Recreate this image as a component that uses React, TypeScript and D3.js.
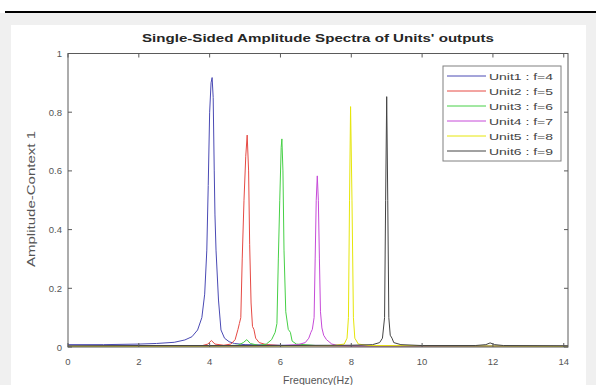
import React from "react";
import * as d3 from "d3";

const xTicks = [0, 2, 4, 6, 8, 10, 12, 14];
const yTicks = [0, 0.2, 0.4, 0.6, 0.8, 1];
const yTickLabels = ["0", "0.2", "0.4", "0.6", "0.8", "1"];

const seriesNames = ["Unit1 : f=4", "Unit2 : f=5", "Unit3 : f=6", "Unit4 : f=7", "Unit5 : f=8", "Unit6 : f=9"];
const seriesColors = ["#4a4ab4", "#e64a44", "#46d046", "#c64ad8", "#e6e60a", "#444444"];

const unit1F = [0, 1, 2, 2.5, 3.0, 3.3, 3.5, 3.66, 3.78, 3.86, 3.92, 3.96, 4.0, 4.04, 4.07, 4.1, 4.13, 4.15, 4.18, 4.25, 4.32, 4.42, 4.55, 4.7, 5, 6, 8, 10, 14.12];
const unit1A = [0.008, 0.008, 0.01, 0.012, 0.016, 0.024, 0.035, 0.058, 0.1, 0.18, 0.33, 0.55, 0.8, 0.9, 0.918, 0.85, 0.6, 0.45, 0.33, 0.16, 0.058, 0.03, 0.018, 0.012, 0.008, 0.006, 0.005, 0.004, 0.003];

const unit2F = [0, 3, 3.8, 3.95, 4.05, 4.15, 4.4, 4.6, 4.72, 4.8, 4.84, 4.88, 4.92, 4.97, 5.02, 5.06, 5.1, 5.13, 5.17, 5.21, 5.25, 5.3, 5.4, 5.6, 6, 8, 14.12];
const unit2A = [0.002, 0.003, 0.005, 0.01, 0.022, 0.01, 0.006, 0.01, 0.025, 0.06, 0.08, 0.1, 0.3, 0.5, 0.65, 0.722, 0.6, 0.35, 0.15, 0.07, 0.06, 0.03, 0.015, 0.008, 0.005, 0.003, 0.002];

const unit3F = [0, 4, 4.8, 4.95, 5.05, 5.15, 5.4, 5.6, 5.75, 5.85, 5.9, 5.94, 5.98, 6.02, 6.04, 6.07, 6.1, 6.15, 6.22, 6.28, 6.33, 6.45, 7, 14.12];
const unit3A = [0.002, 0.003, 0.006, 0.015, 0.025, 0.012, 0.005, 0.01, 0.025, 0.05, 0.08, 0.3, 0.5, 0.68, 0.709, 0.6, 0.33, 0.12, 0.06, 0.05, 0.02, 0.01, 0.005, 0.002];

const unit4F = [0, 5, 6.0, 6.2, 6.5, 6.7, 6.8, 6.86, 6.9, 6.95, 6.98, 7.01, 7.04, 7.07, 7.1, 7.13, 7.17, 7.22, 7.3, 7.45, 7.6, 8, 14.12];
const unit4A = [0.002, 0.003, 0.004, 0.006, 0.008, 0.015, 0.03, 0.05, 0.06, 0.1, 0.3, 0.5, 0.583, 0.5, 0.3, 0.12, 0.065, 0.04, 0.025, 0.01, 0.006, 0.004, 0.002];

const unit5F = [0, 6, 7.5, 7.8, 7.88, 7.92, 7.95, 7.98, 8.02, 8.06, 8.1, 8.2, 8.5, 14.12];
const unit5A = [0.002, 0.003, 0.005, 0.01, 0.03, 0.1, 0.5, 0.819, 0.5, 0.1, 0.03, 0.01, 0.005, 0.002];

const unit6F = [0, 2, 4, 6, 8, 8.6, 8.8, 8.88, 8.94, 8.97, 9.0, 9.03, 9.06, 9.1, 9.15, 9.2, 9.4, 10, 11.5, 11.8, 11.92, 12.05, 12.3, 14.12];
const unit6A = [0.004, 0.005, 0.005, 0.005, 0.006, 0.008, 0.015, 0.03, 0.1, 0.5, 0.853, 0.5, 0.1, 0.04, 0.03, 0.015, 0.008, 0.005, 0.005, 0.008, 0.014, 0.008, 0.005, 0.004];

const seriesF = [unit1F, unit2F, unit3F, unit4F, unit5F, unit6F];
const seriesA = [unit1A, unit2A, unit3A, unit4A, unit5A, unit6A];

export default function App() {
  const W = 596, H = 385;
  const left = 68, right = 568, top = 53.5, bottom = 347;
  const x = d3.scaleLinear().domain([0, 14.12]).range([left, right]);
  const y = d3.scaleLinear().domain([0, 1]).range([bottom, top]);
  const line = d3.line<[number, number]>().x((d) => x(d[0])).y((d) => y(d[1]));
  const axisColor = "#5a5a5a";
  const textColor = "#555";
  const font = "Liberation Sans, Arial, sans-serif";
  const tl = 4;

  return (
    <div style={{ position: "fixed", left: 0, top: 0 }}>
      <svg width={W} height={H} style={{ display: "block" }}>
        <rect x={0} y={0} width={W} height={H} fill="#ffffff" />
        <rect x={0} y={13} width={W} height={H - 13} fill="#f0f0f0" />
        <line x1={5} x2={W} y1={12} y2={12} stroke="#000" strokeWidth={2} />
        <rect x={11} y={25} width={575} height={H - 25} fill="#ffffff" />

        <g>
          {seriesF.map((fs, i) => {
            const pts = fs.map((f, j) => [f, seriesA[i][j]] as [number, number]);
            return (
              <path key={i} d={line(pts) || ""} fill="none" stroke={seriesColors[i]} strokeWidth={1} />
            );
          })}
        </g>

        <rect x={left} y={top} width={right - left} height={bottom - top} fill="none" stroke={axisColor} strokeWidth={1} />
        {xTicks.map((t) => (
          <g key={"x" + t}>
            <line x1={x(t)} x2={x(t)} y1={bottom} y2={bottom - tl} stroke={axisColor} />
            <line x1={x(t)} x2={x(t)} y1={top} y2={top + tl} stroke={axisColor} />
            <text x={x(t)} y={365} textAnchor="middle" fontSize={9.5} fill={textColor} fontFamily={font}>{t}</text>
          </g>
        ))}
        {yTicks.map((t, i) => (
          <g key={"y" + t}>
            <line x1={left} x2={left + tl} y1={y(t)} y2={y(t)} stroke={axisColor} />
            <line x1={right} x2={right - tl} y1={y(t)} y2={y(t)} stroke={axisColor} />
            <text x={62} y={y(t) + 3.5} textAnchor="end" fontSize={9.5} fill={textColor} fontFamily={font}>{yTickLabels[i]}</text>
          </g>
        ))}

        <text x={318} y={42} textAnchor="middle" fontSize={11.5} fontWeight="bold" fill="#262626" fontFamily={font} textLength={352} lengthAdjust="spacingAndGlyphs">
          Single-Sided Amplitude Spectra of Units' outputs
        </text>
        <text x={318} y={384} textAnchor="middle" fontSize={11} fill={textColor} fontFamily={font} textLength={70} lengthAdjust="spacingAndGlyphs">
          Frequency(Hz)
        </text>
        <text transform={`translate(35,199) rotate(-90)`} textAnchor="middle" fontSize={11} fill={textColor} fontFamily={font} textLength={136} lengthAdjust="spacingAndGlyphs">
          Amplitude-Context 1
        </text>

        <g>
          <rect x={443} y={66} width={118} height={95} fill="#fff" stroke="#808080" strokeWidth={1} />
          {seriesNames.map((n, i) => (
            <g key={n}>
              <line x1={447} x2={486} y1={76 + 15 * i} y2={76 + 15 * i} stroke={seriesColors[i]} strokeWidth={1} />
              <text x={489} y={79.5 + 15 * i} fontSize={9.5} fill="#444" fontFamily={font} textLength={64} lengthAdjust="spacingAndGlyphs">{n}</text>
            </g>
          ))}
        </g>
      </svg>
    </div>
  );
}
